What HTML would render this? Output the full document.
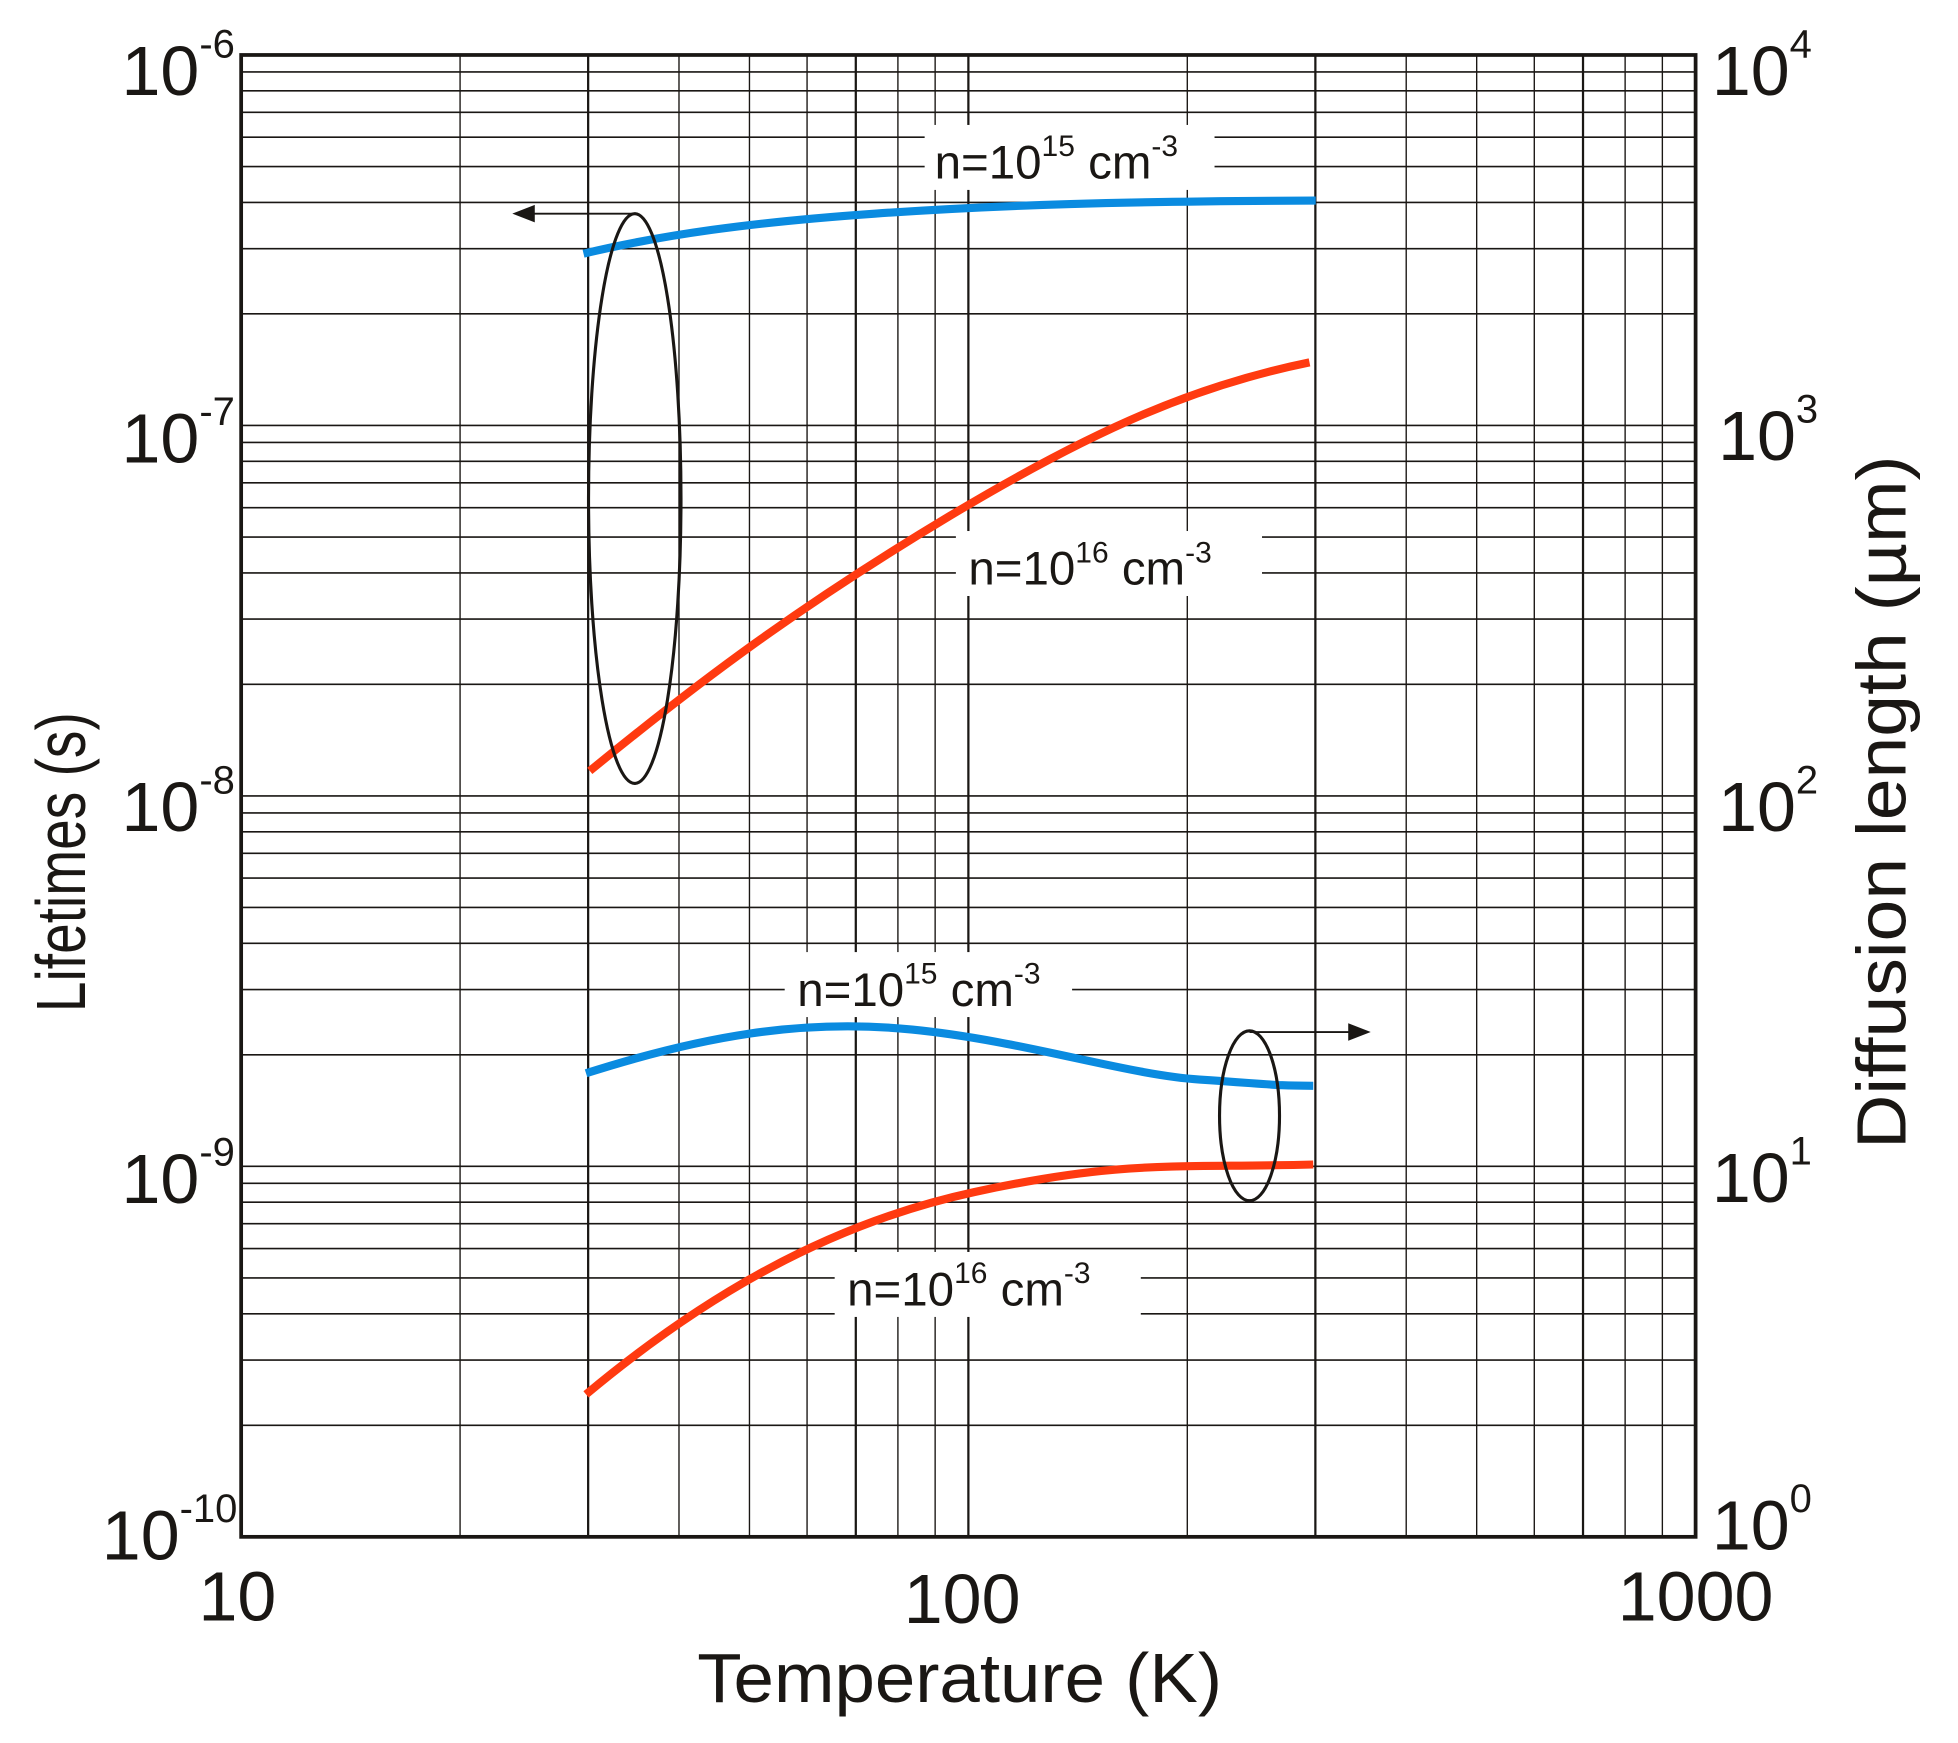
<!DOCTYPE html>
<html><head><meta charset="utf-8"><style>html,body{margin:0;padding:0;background:#fff}svg{display:block}</style></head>
<body>
<svg width="1958" height="1743" viewBox="0 0 1567 1395" preserveAspectRatio="none" xmlns="http://www.w3.org/2000/svg" font-family="Liberation Sans, Arial, sans-serif" fill="#1a1714">
<g stroke="#1a1714" stroke-width="1.1">
<line x1="368.2" y1="44" x2="368.2" y2="1230"/>
<line x1="470.7" y1="44" x2="470.7" y2="1230" stroke-width="1.8"/>
<line x1="543.4" y1="44" x2="543.4" y2="1230"/>
<line x1="599.8" y1="44" x2="599.8" y2="1230"/>
<line x1="645.9" y1="44" x2="645.9" y2="1230"/>
<line x1="684.9" y1="44" x2="684.9" y2="1230" stroke-width="1.8"/>
<line x1="718.6" y1="44" x2="718.6" y2="1230"/>
<line x1="748.4" y1="44" x2="748.4" y2="1230"/>
<line x1="775" y1="44" x2="775" y2="1230" stroke-width="1.8"/>
<line x1="950.2" y1="44" x2="950.2" y2="1230"/>
<line x1="1052.7" y1="44" x2="1052.7" y2="1230" stroke-width="1.8"/>
<line x1="1125.4" y1="44" x2="1125.4" y2="1230"/>
<line x1="1181.8" y1="44" x2="1181.8" y2="1230"/>
<line x1="1227.9" y1="44" x2="1227.9" y2="1230"/>
<line x1="1266.9" y1="44" x2="1266.9" y2="1230" stroke-width="1.8"/>
<line x1="1300.6" y1="44" x2="1300.6" y2="1230"/>
<line x1="1330.4" y1="44" x2="1330.4" y2="1230"/>
</g>
<g stroke="#1a1714" stroke-width="1.3">
<path d="M193 57.6H1357M193 72.7H1357M193 89.9H1357M193 109.8H1357M193 133.3H1357M193 162H1357M193 199H1357M193 251.2H1357
M193 340.5H1357M193 354.1H1357M193 369.2H1357M193 386.4H1357M193 406.3H1357M193 429.8H1357M193 458.5H1357M193 495.5H1357M193 547.7H1357
M193 637H1357M193 650.6H1357M193 665.7H1357M193 682.9H1357M193 702.8H1357M193 726.3H1357M193 755H1357M193 792H1357M193 844.2H1357
M193 933.5H1357M193 947.1H1357M193 962.2H1357M193 979.4H1357M193 999.3H1357M193 1022.8H1357M193 1051.5H1357M193 1088.5H1357M193 1140.7H1357"/>
</g>
<rect x="193" y="44" width="1164" height="1186" fill="none" stroke="#1a1714" stroke-width="3"/>
<rect x="740" y="100" width="232" height="52" fill="#fff"/>
<rect x="765" y="425" width="245" height="52" fill="#fff"/>
<rect x="628" y="762" width="230" height="52" fill="#fff"/>
<rect x="668" y="1002" width="245" height="52" fill="#fff"/>
<g fill="none" stroke-width="6.5" stroke-linecap="butt">
<path stroke="#0a8be0" d="M467 203 C530 188 600 178 700 171 S900 161 1053 160.5"/>
<path stroke="#ff3a10" d="M472 617 C560 545 640 485 760 413 S960 308 1048 290"/>
<path stroke="#0a8be0" d="M469 859 C560 830 640 815 730 824 S900 860 960 864 S1020 869 1051 869"/>
<path stroke="#ff3a10" d="M469 1116 C560 1040 660 980 780 954 S940 935 1051 932"/>
</g>
<g fill="none" stroke="#1a1714" stroke-width="2.5">
<ellipse cx="508" cy="399" rx="37" ry="228"/>
<ellipse cx="1000" cy="893" rx="24" ry="68"/>
</g>
<g stroke="#1a1714" stroke-width="1.5">
<line x1="508" y1="171" x2="420" y2="171"/>
<line x1="1000" y1="826" x2="1085" y2="826"/>
</g>
<polygon points="410,171 428,164 428,178"/>
<polygon points="1097,826 1079,819 1079,833"/>
<g font-size="38">
<text x="748" y="143">n=10<tspan font-size="24" dy="-18">15</tspan><tspan dy="18"> cm</tspan><tspan font-size="24" dy="-18">-3</tspan></text>
<text x="775" y="468">n=10<tspan font-size="24" dy="-18">16</tspan><tspan dy="18"> cm</tspan><tspan font-size="24" dy="-18">-3</tspan></text>
<text x="638" y="805">n=10<tspan font-size="24" dy="-18">15</tspan><tspan dy="18"> cm</tspan><tspan font-size="24" dy="-18">-3</tspan></text>
<text x="678" y="1045">n=10<tspan font-size="24" dy="-18">16</tspan><tspan dy="18"> cm</tspan><tspan font-size="24" dy="-18">-3</tspan></text>
</g>
<g font-size="56" text-anchor="end">
<text x="188" y="76">10<tspan font-size="32" dy="-30">-6</tspan></text>
<text x="188" y="370">10<tspan font-size="32" dy="-30">-7</tspan></text>
<text x="188" y="665">10<tspan font-size="32" dy="-30">-8</tspan></text>
<text x="188" y="963">10<tspan font-size="32" dy="-30">-9</tspan></text>
<text x="190" y="1248">10<tspan font-size="32" dy="-30">-10</tspan></text>
</g>
<g font-size="56">
<text x="1370" y="76">10<tspan font-size="32" dy="-30">4</tspan></text>
<text x="1375" y="368">10<tspan font-size="32" dy="-30">3</tspan></text>
<text x="1375" y="665">10<tspan font-size="32" dy="-30">2</tspan></text>
<text x="1370" y="962">10<tspan font-size="32" dy="-30">1</tspan></text>
<text x="1370" y="1240">10<tspan font-size="32" dy="-30">0</tspan></text>
</g>
<g font-size="56" text-anchor="middle">
<text x="190" y="1297">10</text>
<text x="770" y="1299">100</text>
<text x="1357" y="1297">1000</text>
<text x="768" y="1362" textLength="420" lengthAdjust="spacingAndGlyphs">Temperature (K)</text>
<text transform="translate(68,690) rotate(-90)" textLength="240" lengthAdjust="spacingAndGlyphs">Lifetimes (s)</text>
<text transform="translate(1525,642) rotate(-90)" textLength="555" lengthAdjust="spacingAndGlyphs">Diffusion length (µm)</text>
</g>
</svg>
</body></html>
